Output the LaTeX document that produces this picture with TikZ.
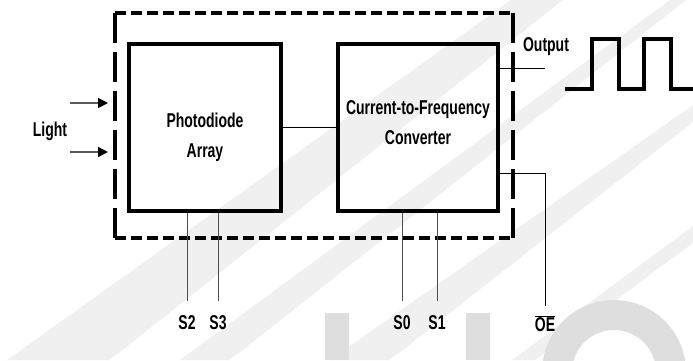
\documentclass[tikz,border=0pt]{standalone}
\usepackage{fontspec}
\setmainfont{Liberation Sans}[FakeStretch=0.7]
\usetikzlibrary{arrows.meta,positioning,decorations}

\begin{document}
\begin{tikzpicture}[x=1pt, y=-1pt, node distance=213pt, >={Triangle[length=10pt,width=10pt,color=black]},
    font=\fontsize{20}{30}\selectfont\bfseries,
    block/.style={draw, rectangle, line width=4.5pt, inner sep=0pt, minimum height=167pt},
    pinlbl/.style={inner xsep=0pt, inner ysep=14.5pt},
    wire/.style={draw=black!70, line width=1pt},
    frame/.style={line width=3.5pt, dash expand off},
    shade/.style={fill=black!6}]
    \useasboundingbox (0,0) rectangle (693,360);

    \begin{scope}
    \clip (0,0) rectangle (693,360);
    \fill[shade] (7,360) -- (511,0) -- (563,0) -- (110,360) -- cycle;
    \fill[shade] (180,360) -- (670,0) -- (686,0) -- (230,360) -- cycle;
    \fill[shade] (330,360) -- (693,105) -- (693,122) -- (390,360) -- cycle;
    \fill[shade] (512,360) -- (693,226) -- (693,243) -- (535,360) -- cycle;
    \fill[black!13] (325,313) rectangle (349,360);
    \fill[black!13] (466,313) rectangle (490,360);
    \fill[black!13, even odd rule] (614,372) circle (72) (614,372) circle (42);
    \end{scope}

    \draw[frame, dash pattern=on 11pt off 5pt] (115,13) -- (513,13);
    \draw[frame, dash pattern=on 11pt off 5pt] (115,238) -- (513,238);
    \draw[frame, dash pattern=on 30pt off 9pt] (115,13) -- (115,238);
    \draw[frame, dash pattern=on 30pt off 9pt] (513,13) -- (513,238);

    \node (light) at (50,131) {Light};
    \node[block, minimum width=152pt] (pd) at (205,127.5) {};
    \node[block, minimum width=160pt, right of=pd] (conv) {};
    \node[align=center] (pdtxt) at (205,137) {Photodiode\\Array};
    \node[align=center] (convtxt) at (418,123) {Current-to-Frequency\\Converter};
    \node (outlbl) at (546,47) {Output};

    \node[pinlbl] (s2) at (187,323) {S2};
    \node[pinlbl] (s3) at (218,323) {S3};
    \node[pinlbl] (s0) at (402,323) {S0};
    \node[pinlbl] (s1) at (437,323) {S1};
    \node[pinlbl, inner ysep=9.5pt] (oe) at (545,324) {$\overline{\mbox{OE}}$};

    \coordinate (in1) at (70,103);
    \coordinate (in2) at (70,152);
    \coordinate (tip1) at (108,103);
    \coordinate (tip2) at (108,152);
    \coordinate (outend) at (545,68);
    \coordinate (oetap) at (545,173);

    \draw[->, draw=black!65, line width=1.5pt] (in1) -- (tip1);
    \draw[->, draw=black!65, line width=1.5pt] (in2) -- (tip2);
    \draw[line width=1.2pt] (pd) -- (conv);
    \draw[line width=1pt] (conv.east |- outend) -- (outend);
    \draw[line width=1pt] (conv.east |- oetap) -| (oe.north);

    \draw[wire] (s2.north) -- (s2 |- pd.south);
    \draw[wire] (s3.north) -- (s3 |- pd.south);
    \draw[wire] (s0.north) -- (s0 |- conv.south);
    \draw[wire] (s1.north) -- (s1 |- conv.south);

    \draw[line width=4.5pt] (565,89) -- (592,89) -- (592,39) -- (619,39) -- (619,89) -- (644,89) -- (644,39) -- (671,39) -- (671,89) -- (693,89);
\end{tikzpicture}
\end{document}
